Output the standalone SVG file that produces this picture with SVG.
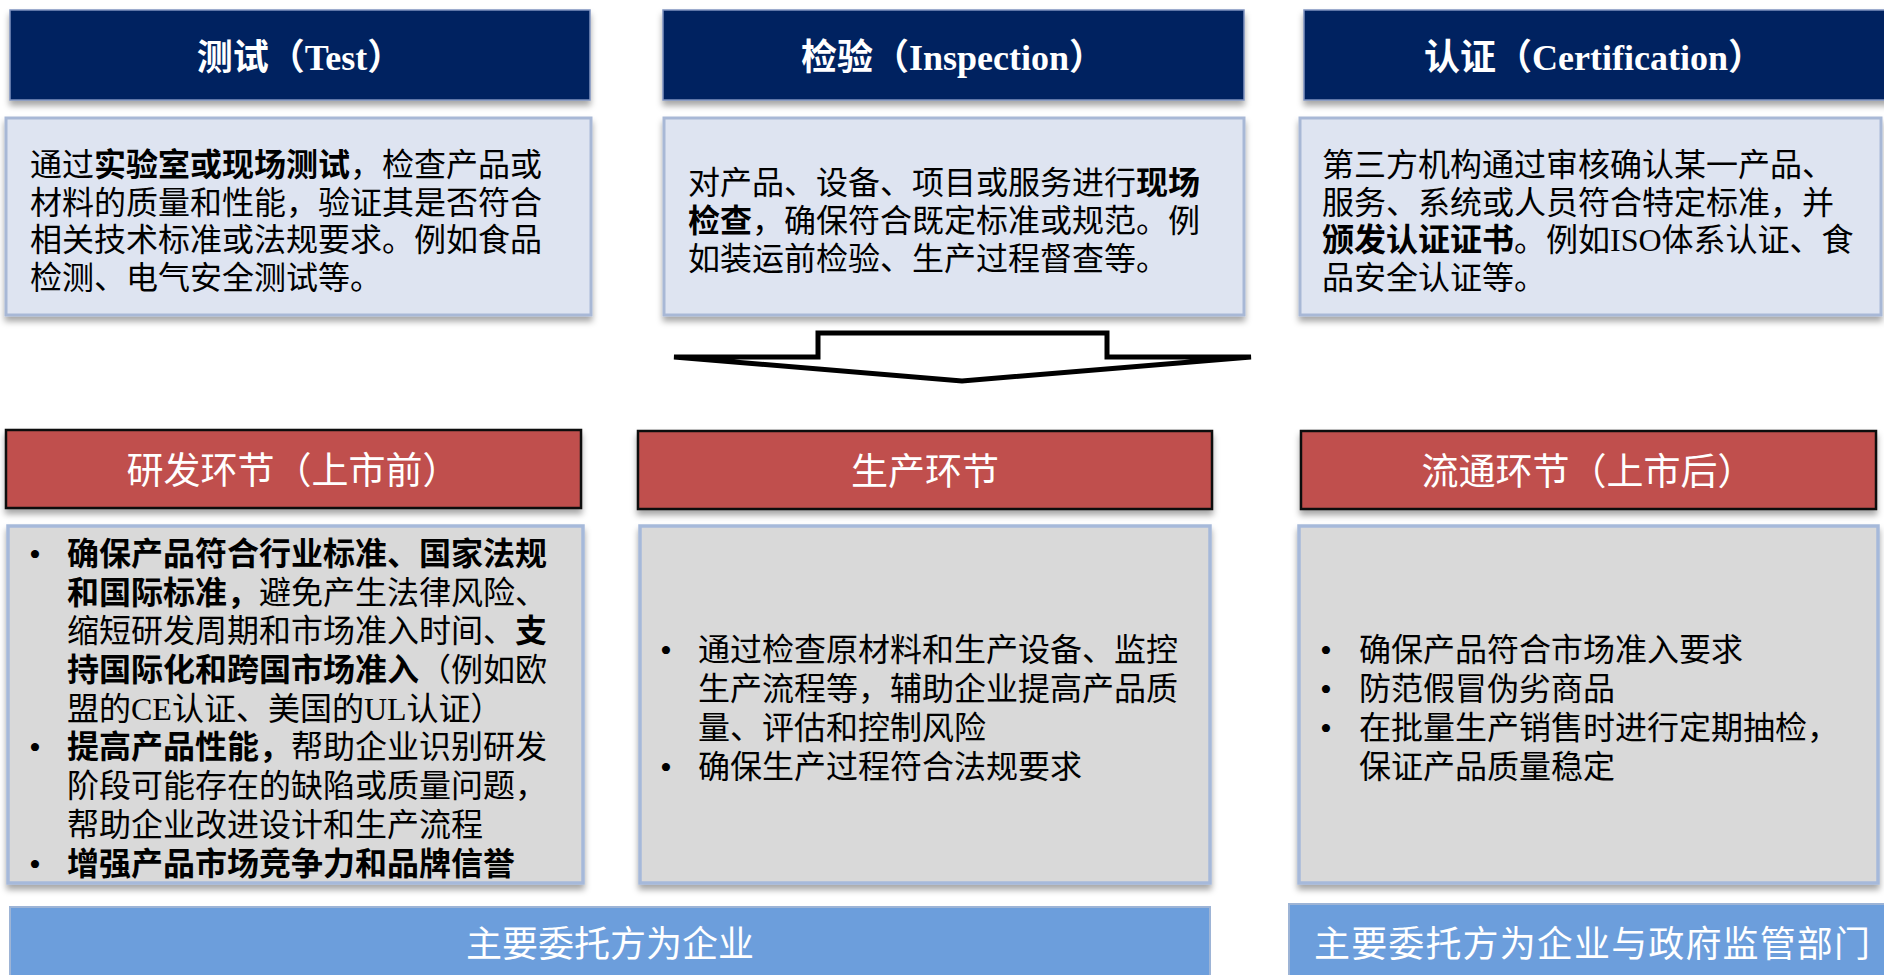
<svg xmlns="http://www.w3.org/2000/svg" width="1884" height="975" viewBox="0 0 1884 975">
<defs>
<filter id="sh" x="-5%" y="-10%" width="110%" height="130%">
<feDropShadow dx="0" dy="5" stdDeviation="3" flood-color="#000" flood-opacity="0.35"/>
</filter>
<style>
.navy{fill:#002060;stroke:#7F93BF;stroke-width:1.5}
.lav{fill:#DEE4F1;stroke:#A8B8D6;stroke-width:3}
.red{fill:#C0504D;stroke:#111;stroke-width:2.5}
.gry{fill:#D9D9D9;stroke:#A6B9DA;stroke-width:3.5}
.blu{fill:#6C9EDC;stroke:#9DB4D6;stroke-width:2}
.hdr{font-family:"Liberation Serif","Noto Sans CJK SC",serif;font-size:36px;font-weight:bold;fill:#fff;text-anchor:middle}
.rt{font-family:"Noto Sans CJK SC",sans-serif;font-size:37px;fill:#fff;text-anchor:middle}
.bt{font-family:"Noto Sans CJK SC",sans-serif;font-size:36px;fill:#fff}
.body{font-family:"Liberation Serif","Noto Sans CJK SC",serif;font-size:32px;fill:#000}
.b{font-weight:bold}
.bul{font-family:"Liberation Serif",serif;font-size:34px;fill:#000;text-anchor:middle}
</style>
</defs>
<rect width="1884" height="975" fill="#fff"/>

<g id="test">
<rect class="navy" x="10" y="10" width="580" height="90" filter="url(#sh)"/>
<text class="hdr" x="300" y="70">测试（Test）</text>
<rect class="lav" x="6" y="118" width="585" height="197" filter="url(#sh)"/>
<text class="body" x="30" y="176">通过<tspan class="b">实验室或现场测试</tspan>，检查产品或</text>
<text class="body" x="30" y="214">材料的质量和性能，验证其是否符合</text>
<text class="body" x="30" y="251">相关技术标准或法规要求。例如食品</text>
<text class="body" x="30" y="289">检测、电气安全测试等。</text>
</g>

<g id="inspection">
<rect class="navy" x="663" y="10" width="581" height="90" filter="url(#sh)"/>
<text class="hdr" x="953" y="70">检验（Inspection）</text>
<rect class="lav" x="664" y="118" width="580" height="197" filter="url(#sh)"/>
<text class="body" x="688" y="194">对产品、设备、项目或服务进行<tspan class="b">现场</tspan></text>
<text class="body" x="688" y="232"><tspan class="b">检查</tspan>，确保符合既定标准或规范。例</text>
<text class="body" x="688" y="270">如装运前检验、生产过程督查等。</text>
</g>

<g id="certification">
<rect class="navy" x="1304" y="10" width="590" height="90" filter="url(#sh)"/>
<text class="hdr" x="1594" y="70">认证（Certification）</text>
<rect class="lav" x="1300" y="118" width="581" height="197" filter="url(#sh)"/>
<text class="body" x="1322" y="176">第三方机构通过审核确认某一产品、</text>
<text class="body" x="1322" y="214">服务、系统或人员符合特定标准，并</text>
<text class="body" x="1322" y="251"><tspan class="b">颁发认证证书</tspan>。例如ISO体系认证、食</text>
<text class="body" x="1322" y="289">品安全认证等。</text>
</g>

<g id="connectors">
<polygon points="674,357 818,357 818,333 1107,333 1107,357 1251,357 962,381" fill="#fff" stroke="#000" stroke-width="5" stroke-miterlimit="2"/>
</g>

<g id="rd">
<rect class="red" x="6" y="430" width="575" height="78" filter="url(#sh)"/>
<text class="rt" x="293" y="484">研发环节（上市前）</text>
<rect class="gry" x="8" y="526" width="575" height="357" filter="url(#sh)"/>
<text class="bul" x="35" y="566">•</text>
<text class="body b" x="67" y="565">确保产品符合行业标准、国家法规</text>
<text class="body" x="67" y="604"><tspan class="b">和国际标准，</tspan>避免产生法律风险、</text>
<text class="body" x="67" y="642">缩短研发周期和市场准入时间、<tspan class="b">支</tspan></text>
<text class="body" x="67" y="681"><tspan class="b">持国际化和跨国市场准入</tspan>（例如欧</text>
<text class="body" x="67" y="720">盟的CE认证、美国的UL认证）</text>
<text class="bul" x="35" y="759">•</text>
<text class="body" x="67" y="758"><tspan class="b">提高产品性能，</tspan>帮助企业识别研发</text>
<text class="body" x="67" y="797">阶段可能存在的缺陷或质量问题，</text>
<text class="body" x="67" y="836">帮助企业改进设计和生产流程</text>
<text class="bul" x="35" y="876">•</text>
<text class="body b" x="67" y="875">增强产品市场竞争力和品牌信誉</text>
</g>

<g id="production">
<rect class="red" x="638" y="431" width="574" height="78" filter="url(#sh)"/>
<text class="rt" x="925" y="485">生产环节</text>
<rect class="gry" x="640" y="526" width="570" height="357" filter="url(#sh)"/>
<text class="bul" x="666" y="662">•</text>
<text class="body" x="698" y="661">通过检查原材料和生产设备、监控</text>
<text class="body" x="698" y="700">生产流程等，辅助企业提高产品质</text>
<text class="body" x="698" y="739">量、评估和控制风险</text>
<text class="bul" x="666" y="779">•</text>
<text class="body" x="698" y="778">确保生产过程符合法规要求</text>
</g>

<g id="circulation">
<rect class="red" x="1301" y="431" width="575" height="78" filter="url(#sh)"/>
<text class="rt" x="1588" y="485">流通环节（上市后）</text>
<rect class="gry" x="1299" y="526" width="579" height="357" filter="url(#sh)"/>
<text class="bul" x="1326" y="662">•</text>
<text class="body" x="1359" y="661">确保产品符合市场准入要求</text>
<text class="bul" x="1326" y="701">•</text>
<text class="body" x="1359" y="700">防范假冒伪劣商品</text>
<text class="bul" x="1326" y="740">•</text>
<text class="body" x="1359" y="739">在批量生产销售时进行定期抽检，</text>
<text class="body" x="1359" y="778">保证产品质量稳定</text>
</g>

<g id="client-enterprise">
<rect class="blu" x="10" y="907" width="1200" height="80"/>
<text class="rt" x="610" y="957" style="font-size:36px">主要委托方为企业</text>
</g>

<g id="client-enterprise-gov">
<rect class="blu" x="1289" y="904" width="610" height="83"/>
<text class="bt" x="1314" y="957" textLength="556" lengthAdjust="spacing">主要委托方为企业与政府监管部门</text>
</g>
</svg>
